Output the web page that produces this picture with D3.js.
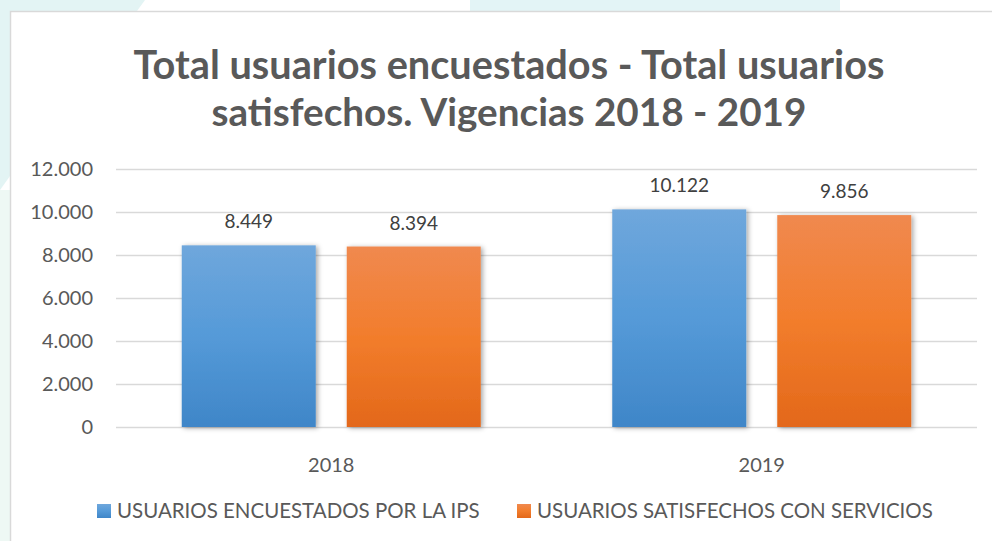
<!DOCTYPE html>
<html lang="es">
<head>
    <meta charset="UTF-8">
    <title>Total usuarios encuestados - Total usuarios satisfechos</title>
    <style>
        body { margin: 0; background: #ffffff; }
        svg text { font-family: Lato, "Open Sans", sans-serif; }
        .tick text { fill: #595959; font-size: 20px; }
        .tick line { stroke: #d9d9d9; stroke-width: 1.5; }
        .domain { display: none; }
    </style>
</head>
<body>

<svg width="992" height="541"></svg>

<script src="https://d3js.org/d3.v7.min.js"></script>
<script>

    // Data
    const years = ['2018', '2019'];
    const seriesNames = ['USUARIOS ENCUESTADOS POR LA IPS', 'USUARIOS SATISFECHOS CON SERVICIOS'];
    const encuestados = [8449, 10122];
    const satisfechos = [8394, 9856];
    const yTickValues = [0, 2000, 4000, 6000, 8000, 10000, 12000];
    const titleLines = ['Total usuarios encuestados - Total usuarios', 'satisfechos. Vigencias 2018 - 2019'];

    const margin = { left: 116, right: 15, top: 169, bottom: 114 };

    const svg = d3.select('svg');
    const width = +svg.attr('width');
    const height = +svg.attr('height');
    const innerWidth = width - margin.left - margin.right;
    const innerHeight = height - margin.top - margin.bottom;

    // number format with dots as thousands separator
    const fmt = d3.formatLocale({ decimal: ',', thousands: '.', grouping: [3], currency: ['$', ''] }).format(',');

    // shrink/grow a text's font so its width matches the reference width
    const fitWidth = function (sel, target) {
        sel.each(function () {
            const base = parseFloat(this.style.fontSize);
            const w = this.getComputedTextLength();
            this.style.fontSize = (base * target / w).toFixed(2) + 'px';
        });
    };

    const defs = svg.append('defs');

    const grad = function (id, top, mid, bottom) {
        const g = defs.append('linearGradient')
            .attr('id', id)
            .attr('x1', 0).attr('y1', 0).attr('x2', 0).attr('y2', 1);
        g.append('stop').attr('offset', '0%').attr('stop-color', top);
        g.append('stop').attr('offset', '50%').attr('stop-color', mid);
        g.append('stop').attr('offset', '100%').attr('stop-color', bottom);
    };
    grad('blueGrad', '#6fa7dc', '#559ad8', '#3f86c8');
    grad('orangeGrad', '#f0894f', '#f27d2c', '#e3681a');

    const shadow = defs.append('filter')
        .attr('id', 'shadow')
        .attr('x', '-20%').attr('y', '-20%').attr('width', '140%').attr('height', '140%');
    shadow.append('feDropShadow')
        .attr('dx', 2).attr('dy', 1)
        .attr('stdDeviation', 2.5)
        .attr('flood-color', '#000')
        .attr('flood-opacity', 0.35);

    // faint decorative background shapes, outside the chart frame only
    svg.append('polygon')
        .attr('points', '0,0 145,0 137,11 10,11 10,176 0,190')
        .attr('fill', '#e3f4f4');
    svg.append('rect')
        .attr('x', 0).attr('y', 190).attr('width', 10).attr('height', height - 190)
        .attr('fill', '#eef8f4');
    svg.append('rect')
        .attr('x', 470).attr('y', 0).attr('width', 370).attr('height', 11)
        .attr('fill', '#e3f4f6');

    // chart frame (runs off the right and bottom edges)
    svg.append('path')
        .attr('d', 'M10.5,' + height + 'V11.5H' + width)
        .attr('fill', 'none')
        .attr('stroke', '#d9d9d9')
        .attr('stroke-width', 1.5);

    // title
    const titleTargets = [751, 595];
    svg.append('g')
        .selectAll('text')
        .data(titleLines)
        .enter()
        .append('text')
        .attr('x', 509)
        .attr('y', function (d, i) { return 79 + i * 47; })
        .attr('text-anchor', 'middle')
        .style('font-size', '38px')
        .style('font-weight', 'bold')
        .style('fill', '#595959')
        .text(function (d) { return d; })
        .each(function (d, i) { fitWidth(d3.select(this), titleTargets[i]); });

    const group = svg.append('g')
        .attr('transform', 'translate(' + margin.left + ' ' + margin.top + ')');

    const xScale = d3.scaleBand()
        .domain(years)
        .range([0, innerWidth]);

    const xInner = d3.scaleBand()
        .domain([0, 1])
        .range([0, 2 * 134 + 31])
        .paddingInner(31 / 165);

    const yScale = d3.scaleLinear()
        .domain([0, 12000])
        .range([innerHeight, 0]);

    const yAxis = d3.axisLeft(yScale)
        .tickValues(yTickValues)
        .tickFormat(fmt)
        .tickSize(-innerWidth)
        .tickPadding(23);

    group.append('g')
        .attr('font-size', null)
        .call(yAxis);

    const xAxis = d3.axisBottom(xScale)
        .tickSize(0)
        .tickPadding(31);

    group.append('g')
        .attr('transform', 'translate(0 ' + innerHeight + ')')
        .call(xAxis);

    const rows = years.map(function (y, i) {
        return { year: y, values: [encuestados[i], satisfechos[i]] };
    });

    const fills = ['url(#blueGrad)', 'url(#orangeGrad)'];
    const groupWidth = 2 * 134 + 31;

    const cat = group.selectAll('.cat')
        .data(rows)
        .enter()
        .append('g')
        .attr('class', 'cat')
        .attr('transform', function (d) {
            return 'translate(' + (xScale(d.year) + (xScale.bandwidth() - groupWidth) / 2) + ' 0)';
        });

    cat.selectAll('rect')
        .data(function (d) { return d.values; })
        .enter()
        .append('rect')
        .attr('x', function (d, i) { return xInner(i); })
        .attr('y', function (d) { return yScale(d); })
        .attr('width', xInner.bandwidth())
        .attr('height', function (d) { return innerHeight - yScale(d); })
        .attr('fill', function (d, i) { return fills[i]; })
        .attr('filter', 'url(#shadow)');

    cat.selectAll('.value')
        .data(function (d) { return d.values; })
        .enter()
        .append('text')
        .attr('class', 'value')
        .attr('x', function (d, i) { return xInner(i) + xInner.bandwidth() / 2; })
        .attr('y', function (d) { return yScale(d) - 17; })
        .attr('text-anchor', 'middle')
        .style('font-size', '19px')
        .style('fill', '#404040')
        .text(function (d) { return fmt(d); });

    // legend
    const legendX = [97, 517];
    const legendTargets = [363, 396];
    const legend = svg.append('g')
        .selectAll('g')
        .data(seriesNames)
        .enter()
        .append('g')
        .attr('transform', function (d, i) { return 'translate(' + legendX[i] + ' 504)'; });

    legend.append('rect')
        .attr('width', 14).attr('height', 14)
        .attr('fill', function (d, i) { return fills[i]; });

    legend.append('text')
        .attr('x', 20)
        .attr('y', 14)
        .style('font-size', '19px')
        .style('fill', '#595959')
        .text(function (d) { return d; })
        .each(function (d, i) { fitWidth(d3.select(this), legendTargets[i]); });

</script>
</body>
</html>
